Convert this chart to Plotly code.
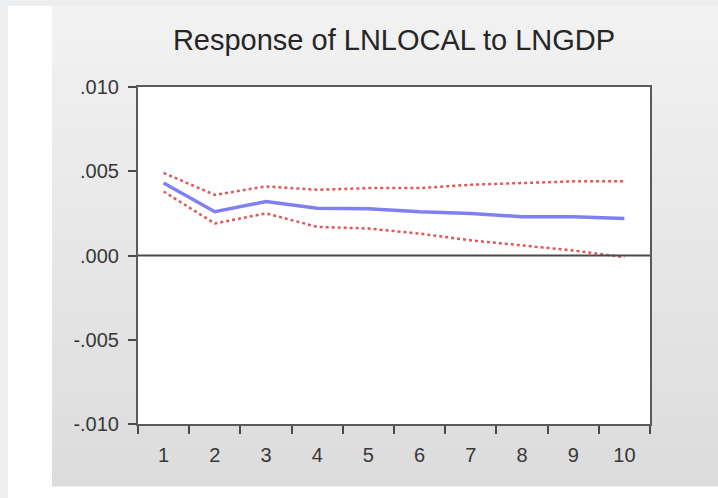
import plotly.graph_objects as go

periods = ["1", "2", "3", "4", "5", "6", "7", "8", "9", "10"]
response = [0.0043, 0.0026, 0.0032, 0.0028, 0.00278, 0.0026, 0.0025, 0.0023, 0.0023, 0.0022]
upper = [0.0049, 0.0036, 0.0041, 0.0039, 0.0040, 0.0040, 0.0042, 0.0043, 0.0044, 0.0044]
lower = [0.0038, 0.0019, 0.0025, 0.0017, 0.0016, 0.0013, 0.0009, 0.0006, 0.0003, -0.0001]
ytick_vals = [-0.010, -0.005, 0.0, 0.005, 0.010]
ytick_text = ["-.010", "-.005", ".000", ".005", ".010"]
title_text = "Response of LNLOCAL to LNGDP"

W, H = 718, 498
L, R, T, B = 138, 650, 87, 424

def px_x(p):
    return (p - L) / (R - L)

def px_y(p):
    return (B - p) / (B - T)

shapes = []
# outer light frame
shapes.append(dict(type="rect", xref="paper", yref="paper", x0=px_x(0), x1=px_x(W), y0=px_y(H), y1=px_y(0),
                   fillcolor="#eceef0", line_width=0, layer="below"))
# white strip
shapes.append(dict(type="rect", xref="paper", yref="paper", x0=px_x(8), x1=px_x(W), y0=px_y(H), y1=px_y(6),
                   fillcolor="#ffffff", line_width=0, layer="below"))
# gray gradient panel
top, bot = 6, 486
n = 40
c0, c1 = 0xf2, 0xdc
for i in range(n):
    y0 = top + (bot - top) * i / n
    y1 = top + (bot - top) * (i + 1) / n
    c = int(round(c0 + (c1 - c0) * (i + 0.5) / n))
    col = "#%02x%02x%02x" % (c, c, c)
    shapes.append(dict(type="rect", xref="paper", yref="paper", x0=px_x(52), x1=px_x(W),
                       y0=px_y(y1 + 0.5), y1=px_y(y0), fillcolor=col, line_width=0, layer="below"))
# plot area white
shapes.append(dict(type="rect", xref="paper", yref="paper", x0=0, x1=1, y0=0, y1=1,
                   fillcolor="#ffffff", line_width=0, layer="below"))
# zero line
shapes.append(dict(type="line", xref="paper", yref="y", x0=0, x1=1, y0=0, y1=0,
                   line=dict(color="#4a4a4a", width=2), layer="above"))

fig = go.Figure()
fig.add_trace(go.Scatter(x=periods, y=upper, mode="lines",
                         line=dict(color="#e05858", width=2.5, dash="dot"), showlegend=False))
fig.add_trace(go.Scatter(x=periods, y=lower, mode="lines",
                         line=dict(color="#e05858", width=2.5, dash="dot"), showlegend=False))
fig.add_trace(go.Scatter(x=periods, y=response, mode="lines",
                         line=dict(color="#8080f0", width=3.5), showlegend=False))

axis_common = dict(ticks="outside", ticklen=8, tickwidth=2, tickcolor="#4a4a4a", showline=True,
                   linecolor="#5a5a5a", linewidth=2, mirror=True, showgrid=False, zeroline=False,
                   tickfont=dict(size=20, color="#383838"))

fig.update_layout(
    width=W, height=H,
    margin=dict(l=L, r=W - R, t=T, b=H - B),
    paper_bgcolor="#ffffff",
    plot_bgcolor="#ffffff",
    shapes=shapes,
    font=dict(family="Liberation Sans, Arial, sans-serif", color="#383838"),
    title=dict(text=title_text, x=(L + R) / 2 / W, xanchor="center", y=1 - 40 / H, yanchor="middle",
               font=dict(size=29, color="#262626")),
    xaxis=dict(type="category", range=[-0.5, 9.5], tickson="boundaries", ticklabelstandoff=12, **axis_common),
    yaxis=dict(range=[-0.010, 0.010], tickvals=ytick_vals, ticktext=ytick_text, ticklabelstandoff=5,
               **axis_common),
)

fig.write_html("out.html", config={"displayModeBar": False},
               post_script="document.body.style.margin='0';")
